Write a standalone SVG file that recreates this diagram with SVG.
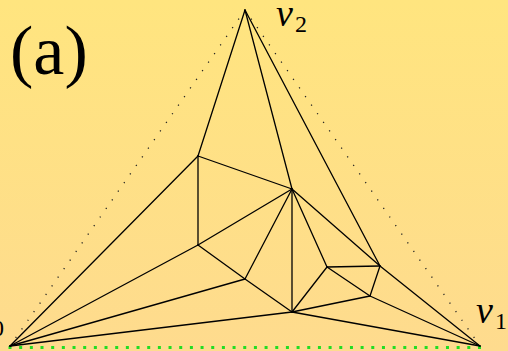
<svg xmlns="http://www.w3.org/2000/svg" width="508" height="351" viewBox="0 0 508 351">
<defs>
<linearGradient id="bg" x1="0" y1="0" x2="0" y2="1">
<stop offset="0" stop-color="#FFE57F"/>
<stop offset="1" stop-color="#FEDB8E"/>
</linearGradient>
</defs>
<style>
.e{stroke:#000;stroke-width:1.3;fill:none;stroke-linecap:round}
.d{stroke:#222;stroke-width:1.3;fill:none;stroke-dasharray:1.2 9.3;stroke-linecap:butt}
.g{stroke:#22DD22;stroke-width:3;fill:none;stroke-dasharray:3 7.67}
.lab{font-family:"Liberation Serif",serif;fill:#000}
.it{font-style:italic}
</style>
<rect width="508" height="351" fill="url(#bg)"/>
<text class="lab" x="10" y="74" font-size="70">(a)</text>
<g id="connectors">
<line class="d" x1="245" y1="10" x2="10" y2="346"/>
<line class="d" x1="245" y1="10" x2="480" y2="346"/>
<line class="g" x1="8.5" y1="347.5" x2="482" y2="347.5"/>
<line class="e" x1="245" y1="10" x2="198" y2="156"/>
<line class="e" x1="245" y1="10" x2="292" y2="189"/>
<line class="e" x1="245" y1="10" x2="380" y2="266"/>
<line class="e" x1="10" y1="346" x2="198" y2="156"/>
<line class="e" x1="10" y1="346" x2="198" y2="245"/>
<line class="e" x1="10" y1="346" x2="245" y2="279"/>
<line class="e" x1="10" y1="346" x2="292" y2="312"/>
<line class="e" x1="198" y1="156" x2="198" y2="245"/>
<line class="e" x1="198" y1="156" x2="292" y2="189"/>
<line class="e" x1="198" y1="245" x2="292" y2="189"/>
<line class="e" x1="198" y1="245" x2="245" y2="279"/>
<line class="e" x1="245" y1="279" x2="292" y2="189"/>
<line class="e" x1="245" y1="279" x2="292" y2="312"/>
<line class="e" x1="292" y1="189" x2="292" y2="312"/>
<line class="e" x1="292" y1="189" x2="327" y2="267"/>
<line class="e" x1="292" y1="189" x2="380" y2="266"/>
<line class="e" x1="292" y1="312" x2="327" y2="267"/>
<line class="e" x1="292" y1="312" x2="370" y2="296"/>
<line class="e" x1="292" y1="312" x2="480" y2="346"/>
<line class="e" x1="327" y1="267" x2="380" y2="266"/>
<line class="e" x1="327" y1="267" x2="370" y2="296"/>
<line class="e" x1="380" y1="266" x2="370" y2="296"/>
<line class="e" x1="380" y1="266" x2="480" y2="346"/>
<line class="e" x1="370" y1="296" x2="480" y2="346"/>
</g>
<g id="v0"><text class="lab" x="-27" y="330" font-size="38"><tspan class="it">v</tspan><tspan font-size="24" dx="2" dy="6">0</tspan></text></g>
<g id="v1"><text class="lab" x="476" y="323" font-size="38"><tspan class="it">v</tspan><tspan font-size="24" dx="2" dy="6">1</tspan></text></g>
<g id="v2"><text class="lab" x="276" y="26" font-size="38"><tspan class="it">v</tspan><tspan font-size="24" dx="2" dy="6">2</tspan></text></g>
<g id="A"/><g id="B"/><g id="C"/><g id="D"/><g id="E"/><g id="F"/><g id="G"/><g id="H"/>
</svg>
